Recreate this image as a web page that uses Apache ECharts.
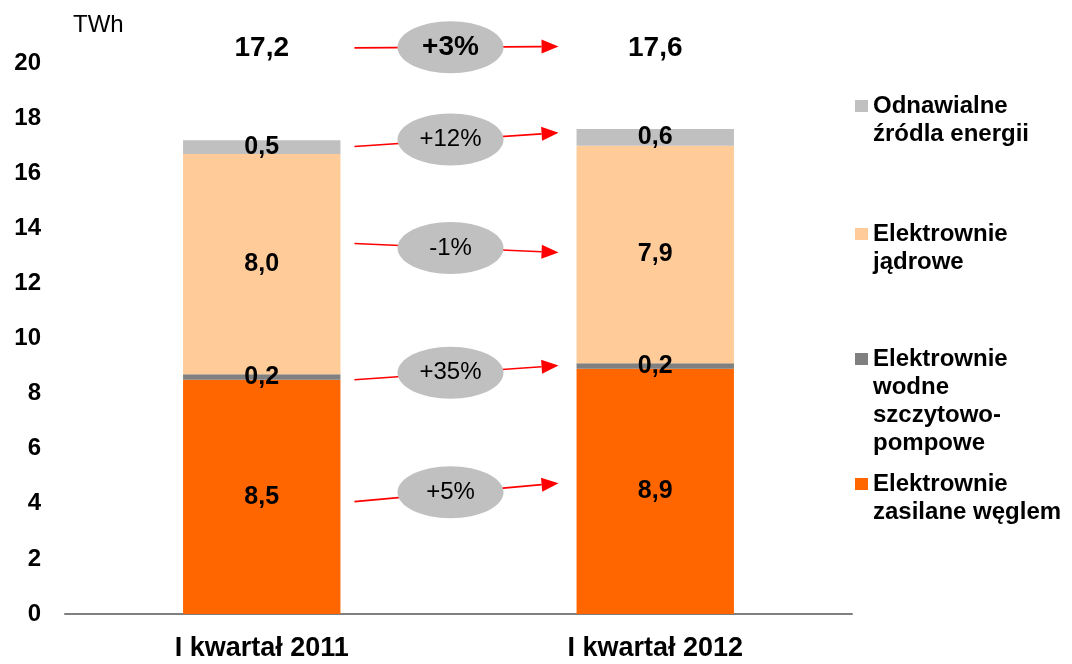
<!DOCTYPE html>
<html>
<head>
<meta charset="utf-8">
<script src="https://cdn.jsdelivr.net/npm/echarts@6/dist/echarts.min.js"></script>
<style>
html,body{margin:0;padding:0;background:#fff;}
#chart{width:1072px;height:664px;}
</style>
</head>
<body>
<div id="chart"></div>
<script>
// ---- data ----
const categories = ['I kwartał 2011', 'I kwartał 2012'];
const seriesNames = [
  'Elektrownie\nzasilane węglem',
  'Elektrownie\nwodne\nszczytowo-\npompowe',
  'Elektrownie\njądrowe',
  'Odnawialne\nźródla energii'
];
const coal = [8.5, 8.9];
const hydro = [0.2, 0.2];
const nuclear = [8.0, 7.9];
const renewable = [0.5, 0.6];
const yTicks = { min: 0, max: 20, interval: 2 };
const changes = ['+3%', '+12%', '-1%', '+35%', '+5%'];
const changeFrom = [20.55, 16.97, 13.45, 8.5, 4.08];   // TWh level at left end of arrow
const changeTo = [20.6, 17.47, 13.12, 9.02, 4.75];     // TWh level at arrow tip

// ---- styles ----
const FONT = '"Liberation Sans", Arial, sans-serif';
const colors = ['#FF6600', '#808080', '#FFCC99', '#C0C0C0'];
const TOTAL_LEVEL = 20.55;
const values = [coal, hydro, nuclear, renewable];
const totals = categories.map((c, i) => values.reduce((s, arr) => s + arr[i], 0));
const fmt = v => Number(v).toFixed(1).replace('.', ',');

const chart = echarts.init(document.getElementById('chart'), null, { renderer: 'canvas' });

const barSeries = values.map((arr, k) => ({
  name: seriesNames[k],
  type: 'bar',
  stack: 'total',
  barWidth: '40%',
  data: arr,
  itemStyle: { color: colors[k] },
  label: {
    show: true, position: 'inside', color: '#000', fontSize: 25, fontWeight: 'bold',
    fontFamily: FONT, formatter: p => fmt(p.value)
  },
  emphasis: { disabled: true }
}));

// legend: one component per item, marker aligned with the first text line
const LINE_H = 28;
const legendMid = [106, 234, 359, 484];
const legendOrder = [3, 2, 1, 0];
const legends = legendOrder.map((k, j) => {
  const n = seriesNames[k].split('\n').length;
  return {
    data: [seriesNames[k]],
    orient: 'vertical',
    left: 855,
    top: legendMid[j] - (2 * n - 1) * LINE_H / 2,
    padding: 0,
    itemWidth: 13,
    itemHeight: 12,
    itemGap: 0,
    selectedMode: false,
    icon: 'rect',
    formatter: name => '\n'.repeat(n - 1) + name,
    textStyle: {
      fontSize: 24, fontWeight: 'bold', color: '#000', fontFamily: FONT, lineHeight: LINE_H
    }
  };
});

const option = {
  animation: false,
  grid: { left: 65, right: 220, top: 63, bottom: 50 },
  legend: legends,
  xAxis: {
    type: 'category',
    data: categories,
    axisLine: { lineStyle: { color: '#7f7f7f', width: 2 } },
    axisTick: { show: false },
    axisLabel: { fontSize: 27, fontWeight: 'bold', color: '#000', margin: 21, fontFamily: FONT }
  },
  yAxis: {
    type: 'value',
    min: yTicks.min, max: yTicks.max, interval: yTicks.interval,
    name: 'TWh',
    nameLocation: 'end',
    nameGap: 26,
    nameTextStyle: { fontSize: 24, color: '#000', fontFamily: FONT, align: 'left', padding: [0, 0, 0, 8] },
    axisLine: { show: false },
    axisTick: { show: false },
    splitLine: { show: false },
    axisLabel: { fontSize: 24, fontWeight: 'bold', color: '#000', margin: 24, fontFamily: FONT }
  },
  series: barSeries.concat([
    {
      type: 'custom',
      name: 'totals',
      clip: false,
      silent: true,
      data: categories.map((c, i) => [i, totals[i]]),
      encode: { x: 0, y: 1 },
      renderItem: function (params, api) {
        const p = api.coord([api.value(0), TOTAL_LEVEL]);
        return {
          type: 'text',
          style: {
            x: p[0], y: p[1], text: fmt(api.value(1)), align: 'center', verticalAlign: 'middle',
            fontSize: 28, fontWeight: 'bold', fill: '#000', fontFamily: FONT
          }
        };
      }
    },
    {
      type: 'custom',
      name: 'changes',
      clip: false,
      silent: true,
      data: changes.map((c, i) => [0, changeFrom[i], changeTo[i], i]),
      encode: { x: 0, y: 1 },
      renderItem: function (params, api) {
        const i = api.value(3);
        const a = api.coord([0, api.value(1)]);
        const b = api.coord([1, api.value(2)]);
        const band = api.size([1, 0])[0];
        const half = band * 0.2;
        const x0 = a[0] + half + 14, x1 = b[0] - half - 18;
        const y0 = a[1], y1 = b[1];
        const ang = Math.atan2(y1 - y0, x1 - x0);
        const hl = 17, hw = 7;
        const bx = x1 - hl * Math.cos(ang), by = y1 - hl * Math.sin(ang);
        const px = -Math.sin(ang) * hw, py = Math.cos(ang) * hw;
        const cx = (x0 + x1) / 2 - 6, cy = (y0 + y1) / 2;
        const isTotal = i === 0;
        return {
          type: 'group',
          children: [
            { type: 'line', shape: { x1: x0, y1: y0, x2: bx, y2: by }, style: { stroke: '#ff0000', lineWidth: 1.6 } },
            { type: 'polygon', shape: { points: [[x1, y1], [bx + px, by + py], [bx - px, by - py]] }, style: { fill: '#ff0000' } },
            { type: 'ellipse', shape: { cx: cx, cy: cy, rx: 53, ry: 26 }, style: { fill: '#c0c0c0' } },
            {
              type: 'text',
              style: {
                x: cx, y: cy, text: changes[i], align: 'center', verticalAlign: 'middle',
                fontSize: isTotal ? 28 : 24, fontWeight: isTotal ? 'bold' : 'normal',
                fill: '#000', fontFamily: FONT
              }
            }
          ]
        };
      }
    }
  ])
};

chart.setOption(option);
</script>
</body>
</html>
